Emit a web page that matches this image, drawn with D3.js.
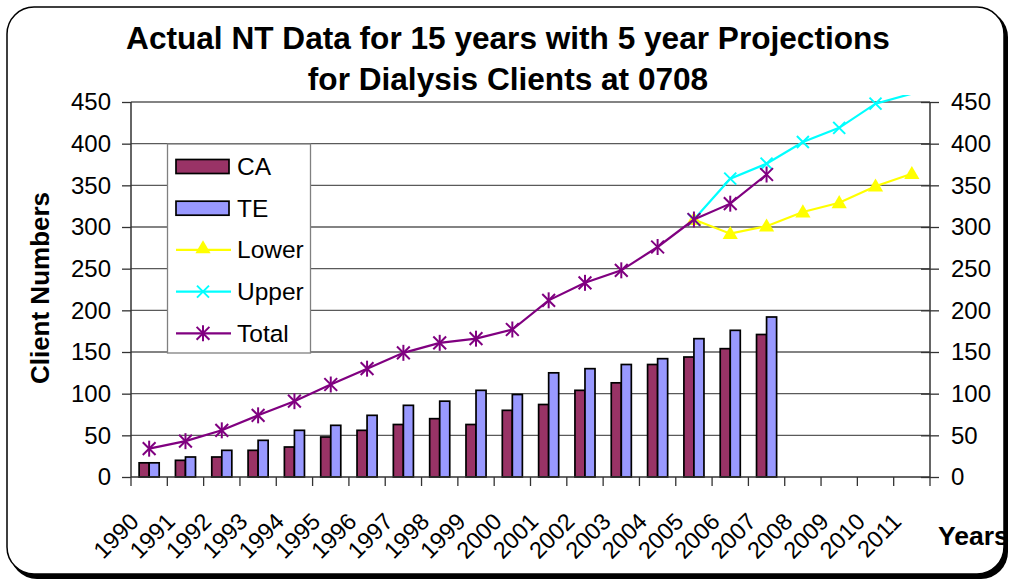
<!DOCTYPE html>
<html>
<head>
<meta charset="utf-8">
<script src="https://cdn.jsdelivr.net/npm/d3@7"></script>
<style>
  body { margin: 0; background: #fff; }
  text { font-family: "Liberation Sans", Arial, sans-serif; }
</style>
</head>
<body>
<div id="chart"></div>
<script>
// chart values
const years = ["1990","1991","1992","1993","1994","1995","1996","1997","1998","1999","2000",
  "2001","2002","2003","2004","2005","2006","2007","2008","2009","2010","2011"];
const actualYears = years.slice(0, 18);
const projYears = years.slice(15);
const caValues = [17, 20, 24, 32, 36, 48, 56, 63, 70, 63, 80, 87, 104, 113, 135, 144, 154, 171];
const teValues = [17, 24, 32, 44, 56, 62, 74, 86, 91, 104, 99, 125, 130, 135, 142, 166, 176, 192];
const totalValues = [34, 43, 56, 74, 91, 111, 130, 149, 161, 166, 177, 212, 233, 248, 276, 309, 328, 363];
const upperValues = [309, 358, 376, 402, 419, 448, 460];
const lowerValues = [309, 292, 301, 318, 329, 349, 364];
const yTicks = [0, 50, 100, 150, 200, 250, 300, 350, 400, 450];

const W = 1011, H = 581;
const svg = d3.select("#chart").append("svg")
  .attr("width", W)
  .attr("height", H);

// frame with shadow
svg.append("rect")
  .attr("x", 10).attr("y", 10).attr("width", 998).attr("height", 569)
  .attr("rx", 27).attr("fill", "#000");
svg.append("rect")
  .attr("x", 7).attr("y", 7).attr("width", 997).attr("height", 567)
  .attr("rx", 27).attr("fill", "#fff").attr("stroke", "#000").attr("stroke-width", 1.5);

const plotL = 131, plotR = 930, plotT = 102, plotB = 477;

const x = d3.scaleBand().domain(years).range([plotL, plotR]).padding(0);
const xs = d3.scaleBand().domain(["CA", "TE"]).range([0, x.bandwidth()]).paddingOuter(0.81);
const y = d3.scaleLinear().domain([0, 450]).range([plotB, plotT]);

// gridlines
svg.append("g")
  .selectAll("line")
  .data(yTicks.slice(1))
  .enter().append("line")
  .attr("x1", plotL).attr("x2", plotR)
  .attr("y1", d => y(d)).attr("y2", d => y(d))
  .attr("stroke", "#5a5a5a").attr("stroke-width", 1.3);

// bars
const groups = svg.append("g")
  .selectAll("g")
  .data(actualYears.map((yr, i) => ({ year: yr, CA: caValues[i], TE: teValues[i] })))
  .enter().append("g")
  .attr("transform", d => `translate(${x(d.year)},0)`);

groups.selectAll("rect")
  .data(d => [{ key: "CA", v: d.CA }, { key: "TE", v: d.TE }])
  .enter().append("rect")
  .attr("x", d => xs(d.key))
  .attr("width", xs.bandwidth())
  .attr("y", d => y(d.v))
  .attr("height", d => y(0) - y(d.v))
  .attr("fill", d => d.key === "CA" ? "#993366" : "#9999ff")
  .attr("stroke", "#000")
  .attr("stroke-width", 1.7);

// axes
const leftAxis = svg.append("g")
  .attr("transform", `translate(${plotL},0)`)
  .call(d3.axisLeft(y).tickValues(yTicks).tickSize(9).tickPadding(11));
const rightAxis = svg.append("g")
  .attr("transform", `translate(${plotR},0)`)
  .call(d3.axisRight(y).tickValues(yTicks).tickSize(9).tickPadding(12));
rightAxis.selectAll(".tick line").attr("x1", -9);
const xAxis = svg.append("g")
  .attr("transform", `translate(0,${plotB})`)
  .call(d3.axisBottom(x).tickSize(9).tickFormat(""));
// ticks at category boundaries
xAxis.selectAll(".tick").remove();
xAxis.selectAll("line.bt")
  .data(years.concat(["end"]))
  .enter().append("line")
  .attr("class", "bt")
  .attr("x1", (d, i) => plotL + i * x.step()).attr("x2", (d, i) => plotL + i * x.step())
  .attr("y1", 0).attr("y2", 9)
  .attr("stroke", "#333").attr("stroke-width", 1.3);

[leftAxis, rightAxis, xAxis].forEach(a => {
  a.select(".domain").attr("stroke", "#333").attr("stroke-width", 1.5);
  a.selectAll(".tick line").attr("stroke", "#333").attr("stroke-width", 1.3);
  a.selectAll("text").style("font-size", "24px").attr("fill", "#000");
});
leftAxis.select(".domain").attr("d", `M0,${plotB}V${plotT}`);
rightAxis.select(".domain").attr("d", `M0,${plotB}V${plotT}`);
xAxis.select(".domain").attr("d", `M${plotL},0H${plotR}`);

// x labels
svg.append("g")
  .selectAll("text")
  .data(years)
  .enter().append("text")
  .attr("transform", d => `translate(${x(d) + x.bandwidth() / 2 - 9},${plotB + 46}) rotate(-45)`)
  .attr("text-anchor", "end")
  .style("font-size", "23.5px")
  .text(d => d);

// lines
svg.append("clipPath").attr("id", "clip")
  .append("rect").attr("x", 0).attr("y", 95).attr("width", W).attr("height", H);

const cx = d => x(d) + x.bandwidth() / 2;
const line = d3.line().x(d => cx(d.year)).y(d => y(d.v));

const lowerData = projYears.map((yr, i) => ({ year: yr, v: lowerValues[i] }));
const upperData = projYears.map((yr, i) => ({ year: yr, v: upperValues[i] }));
const totalData = actualYears.map((yr, i) => ({ year: yr, v: totalValues[i] }));

const tri = d3.symbol().type(d3.symbolTriangle).size(100);

function drawX(g, px, py, r, color) {
  g.append("path")
    .attr("d", `M${px - r},${py - r}L${px + r},${py + r}M${px - r},${py + r}L${px + r},${py - r}`)
    .attr("stroke", color).attr("stroke-width", 2).attr("fill", "none");
}
function drawStar(g, px, py, r, color) {
  drawX(g, px, py, r * 0.8, color);
  g.append("path")
    .attr("d", `M${px},${py - r}V${py + r}`)
    .attr("stroke", color).attr("stroke-width", 2);
}

const lines = svg.append("g").attr("clip-path", "url(#clip)");

lines.append("path").datum(lowerData)
  .attr("d", line).attr("fill", "none").attr("stroke", "#ffff00").attr("stroke-width", 2.2);
lines.selectAll(".tri").data(lowerData).enter().append("path")
  .attr("transform", d => `translate(${cx(d.year)},${y(d.v) + 1})`)
  .attr("d", tri).attr("fill", "#ffff00");

lines.append("path").datum(upperData)
  .attr("d", line).attr("fill", "none").attr("stroke", "#00ffff").attr("stroke-width", 2.2);
upperData.forEach(d => { if (d.v <= 450) drawX(lines, cx(d.year), y(d.v), 6, "#00ffff"); });

lines.append("path").datum(totalData)
  .attr("d", line).attr("fill", "none").attr("stroke", "#800080").attr("stroke-width", 2.2);
totalData.forEach(d => drawStar(lines, cx(d.year), y(d.v), 8, "#800080"));

// legend
const legend = svg.append("g");
legend.append("rect")
  .attr("x", 167.5).attr("y", 144).attr("width", 143).attr("height", 209)
  .attr("fill", "#fff").attr("stroke", "#808080").attr("stroke-width", 1.3);
const legendItems = ["CA", "TE", "Lower", "Upper", "Total"];
legendItems.forEach((name, i) => {
  const ly = 166.5 + i * 41.7;
  const g = legend.append("g");
  if (name === "CA" || name === "TE") {
    g.append("rect").attr("x", 176).attr("y", ly - 7).attr("width", 53).attr("height", 14)
      .attr("fill", name === "CA" ? "#993366" : "#9999ff")
      .attr("stroke", "#000").attr("stroke-width", 1.7);
  } else {
    const col = name === "Lower" ? "#ffff00" : name === "Upper" ? "#00ffff" : "#800080";
    g.append("line").attr("x1", 176).attr("x2", 231).attr("y1", ly).attr("y2", ly)
      .attr("stroke", col).attr("stroke-width", 2.2);
    if (name === "Lower") {
      g.append("path").attr("transform", `translate(203,${ly - 1})`).attr("d", tri).attr("fill", col);
    } else if (name === "Upper") {
      drawX(g, 203, ly, 6, col);
    } else {
      drawStar(g, 203, ly, 8, col);
    }
  }
  g.append("text").attr("x", 237).attr("y", ly + 8.5)
    .style("font-size", "24.5px").text(name);
});

// titles
svg.append("text")
  .attr("x", 508).attr("y", 49)
  .attr("text-anchor", "middle")
  .style("font-size", "31.6px").style("font-weight", "bold")
  .text("Actual NT Data for 15 years with 5 year Projections");
svg.append("text")
  .attr("x", 508).attr("y", 90)
  .attr("text-anchor", "middle")
  .style("font-size", "31.6px").style("font-weight", "bold")
  .text("for Dialysis Clients at 0708");

svg.append("text")
  .attr("transform", "translate(49,288) rotate(-90)")
  .attr("text-anchor", "middle")
  .style("font-size", "26px").style("font-weight", "bold")
  .text("Client Numbers");

svg.append("text")
  .attr("x", 938).attr("y", 545)
  .style("font-size", "26.5px").style("font-weight", "bold")
  .text("Years");
</script>
</body>
</html>
